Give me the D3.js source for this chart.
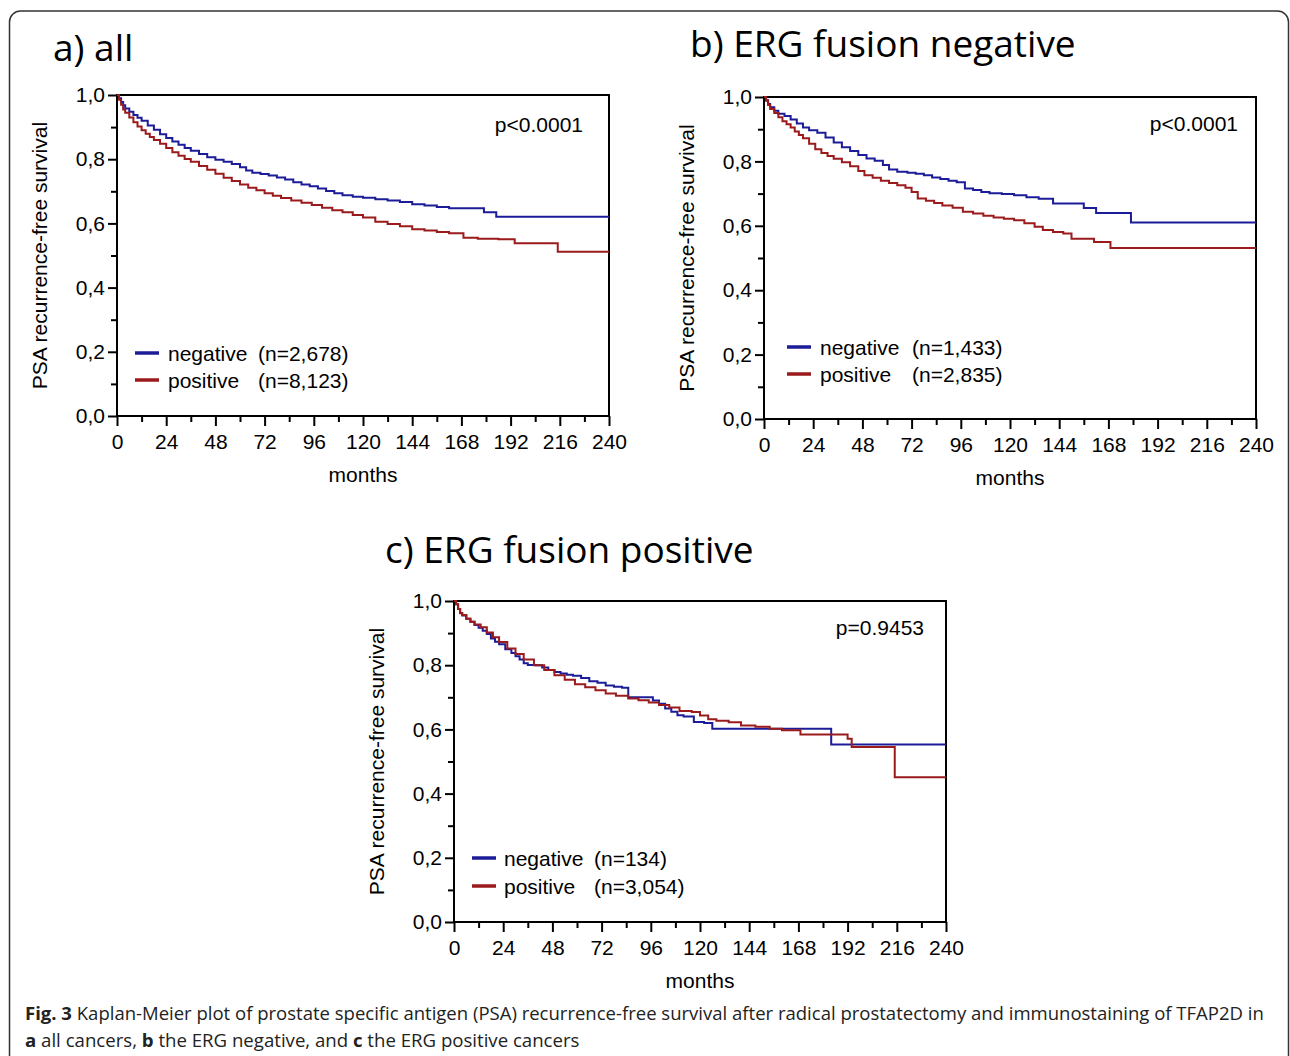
<!DOCTYPE html>
<html>
<head>
<meta charset="utf-8">
<script src="https://cdn.jsdelivr.net/npm/d3@7"></script>
<style>
	body { margin: 0; background: #fff; }
</style>
</head>
<body>
<script>
// Axis ticks
const monthTicks = [0, 24, 48, 72, 96, 120, 144, 168, 192, 216, 240];
const monthMinorTicks = [12, 36, 60, 84, 108, 132, 156, 180, 204, 228];
const survTicks = [0, 0.2, 0.4, 0.6, 0.8, 1.0];
const survMinorTicks = [0.1, 0.3, 0.5, 0.7, 0.9];
const survTickLabels = ["0,0", "0,2", "0,4", "0,6", "0,8", "1,0"];

// Panel texts
const panelTitles = ["a) all", "b) ERG fusion negative", "c) ERG fusion positive"];
const pValues = ["p<0.0001", "p<0.0001", "p=0.9453"];
const groupNames = ["negative", "positive"];
const groupCountsAll = ["(n=2,678)", "(n=8,123)"];
const groupCountsErgNeg = ["(n=1,433)", "(n=2,835)"];
const groupCountsErgPos = ["(n=134)", "(n=3,054)"];

// a) all - TFAP2D negative
const allNegMonths = [0, 1, 2, 3, 4, 6, 8, 10, 12, 15, 18, 21, 24, 27, 30, 33, 36, 40, 44, 48, 52, 56, 60, 63, 66, 70, 74, 78, 82, 86, 90, 94, 98, 102, 106, 110, 115, 120, 126, 132, 138, 144, 150, 156, 162, 179, 185, 240];
const allNegSurv = [1.0, 0.99, 0.978, 0.968, 0.958, 0.948, 0.938, 0.929, 0.92, 0.905, 0.892, 0.878, 0.866, 0.855, 0.845, 0.835, 0.826, 0.816, 0.806, 0.798, 0.792, 0.785, 0.775, 0.765, 0.758, 0.754, 0.749, 0.743, 0.737, 0.728, 0.721, 0.716, 0.709, 0.701, 0.694, 0.688, 0.683, 0.68, 0.675, 0.671, 0.667, 0.66, 0.656, 0.651, 0.647, 0.635, 0.621, 0.621];
// a) all - TFAP2D positive
const allPosMonths = [0, 1, 2, 3, 4, 6, 8, 10, 12, 14, 16, 18, 21, 24, 27, 30, 33, 36, 40, 44, 48, 52, 56, 60, 64, 68, 72, 76, 80, 85, 90, 95, 100, 105, 110, 115, 120, 126, 132, 138, 144, 150, 156, 162, 169, 176, 186, 194, 215, 240];
const allPosSurv = [1.0, 0.985, 0.97, 0.955, 0.945, 0.93, 0.915, 0.902, 0.89, 0.879, 0.869, 0.86, 0.848, 0.835, 0.822, 0.811, 0.801, 0.792, 0.779, 0.767, 0.755, 0.742, 0.732, 0.721, 0.711, 0.703, 0.694, 0.686, 0.679, 0.671, 0.664, 0.657, 0.649, 0.641, 0.635, 0.626, 0.618, 0.605, 0.598, 0.591, 0.582, 0.578, 0.573, 0.569, 0.555, 0.552, 0.551, 0.538, 0.512, 0.512];

// b) ERG negative - TFAP2D negative
const ergNegNegMonths = [0, 1, 2, 3, 5, 7, 10, 13, 16, 19, 22, 26, 30, 34, 38, 42, 46, 50, 54, 58, 61, 65, 70, 74, 78, 82, 86, 90, 94, 98, 102, 106, 110, 116, 122, 128, 134, 141, 156, 162, 179, 240];
const ergNegNegSurv = [1.0, 0.99, 0.978, 0.968, 0.957, 0.948, 0.941, 0.93, 0.918, 0.905, 0.897, 0.889, 0.874, 0.859, 0.844, 0.832, 0.82, 0.809, 0.802, 0.789, 0.775, 0.768, 0.765, 0.762, 0.757, 0.75, 0.745, 0.74, 0.735, 0.716, 0.711, 0.705, 0.701, 0.699, 0.695, 0.689, 0.684, 0.669, 0.655, 0.64, 0.61, 0.61];
// b) ERG negative - TFAP2D positive
const ergNegPosMonths = [0, 1, 2, 3, 5, 7, 9, 11, 13, 15, 17, 19, 22, 25, 28, 31, 34, 38, 42, 46, 49, 53, 57, 61, 65, 69, 72, 75, 79, 83, 87, 92, 97, 102, 107, 112, 117, 122, 127, 132, 136, 141, 146, 150, 161, 169, 240];
const ergNegPosSurv = [1.0, 0.988, 0.975, 0.963, 0.95, 0.937, 0.925, 0.915, 0.905, 0.893, 0.882, 0.872, 0.855, 0.838, 0.826, 0.817, 0.808, 0.797, 0.785, 0.77, 0.757, 0.749, 0.74, 0.733, 0.726, 0.718, 0.705, 0.685, 0.678, 0.671, 0.663, 0.656, 0.644, 0.638, 0.631, 0.626, 0.622, 0.617, 0.608, 0.597, 0.587, 0.581, 0.576, 0.56, 0.55, 0.531, 0.531];

// c) ERG positive - TFAP2D negative
const ergPosNegMonths = [0, 1, 2, 3, 4, 6, 8, 10, 12, 14, 16, 18, 20, 22, 25, 28, 30, 32, 34, 36, 40, 43, 46, 49, 52, 55, 58, 62, 66, 70, 74, 78, 82, 85, 90, 95, 97, 100, 103, 106, 109, 112, 117, 122, 126, 184, 240];
const ergPosNegSurv = [1.0, 0.99, 0.975, 0.963, 0.955, 0.945, 0.935, 0.925, 0.917, 0.907, 0.897, 0.883, 0.873, 0.865, 0.85, 0.838, 0.828, 0.818, 0.806, 0.801, 0.8, 0.793, 0.785, 0.779, 0.774, 0.77, 0.767, 0.76, 0.75, 0.745, 0.737, 0.733, 0.73, 0.7, 0.7, 0.7, 0.69, 0.68, 0.665, 0.655, 0.644, 0.64, 0.623, 0.62, 0.602, 0.553, 0.553];
// c) ERG positive - TFAP2D positive
const ergPosPosMonths = [0, 1, 2, 3, 4, 6, 8, 10, 13, 16, 19, 22, 26, 30, 34, 39, 44, 49, 54, 59, 64, 69, 74, 79, 85, 90, 95, 100, 105, 110, 116, 120, 124, 128, 134, 140, 147, 154, 160, 169, 192, 194, 215, 240];
const ergPosPosSurv = [1.0, 0.99, 0.975, 0.962, 0.956, 0.945, 0.935, 0.927, 0.918, 0.902, 0.887, 0.872, 0.852, 0.835, 0.818, 0.8, 0.785, 0.769, 0.755, 0.741, 0.731, 0.722, 0.712, 0.705, 0.696, 0.691, 0.684, 0.676, 0.668, 0.657, 0.654, 0.643, 0.632, 0.627, 0.622, 0.612, 0.608, 0.602, 0.597, 0.584, 0.571, 0.545, 0.451, 0.451];

// Caption
const captionLine1 = ["Fig. 3", " Kaplan-Meier plot of prostate specific antigen (PSA) recurrence-free survival after radical prostatectomy and immunostaining of TFAP2D in"];
const captionLine2 = [["a", true], [" all cancers, ", false], ["b", true], [" the ERG negative, and ", false], ["c", true], [" the ERG positive cancers", false]];

const seriesColors = ["#1c1c98", "#9b1a1c"];
const arial = "'Liberation Sans', Arial, sans-serif";
const openSans = "'Open Sans', sans-serif";

// Layout of each panel (pixel positions only)
const panels = [
	{ title: panelTitles[0], titleX: 53, titleY: 61, left: 117, top: 95, bottom: 416,
	  neg: [allNegMonths, allNegSurv], pos: [allPosMonths, allPosSurv], counts: groupCountsAll,
	  p: pValues[0], pX: 583, pY: 132, legLine: 18, legText: 51, legCount: 141, legY: [353, 380] },
	{ title: panelTitles[1], titleX: 690, titleY: 57, left: 764, top: 97, bottom: 419,
	  neg: [ergNegNegMonths, ergNegNegSurv], pos: [ergNegPosMonths, ergNegPosSurv], counts: groupCountsErgNeg,
	  p: pValues[1], pX: 1238, pY: 131, legLine: 23, legText: 56, legCount: 148, legY: [347, 374] },
	{ title: panelTitles[2], titleX: 385, titleY: 563, left: 454, top: 601, bottom: 922,
	  neg: [ergPosNegMonths, ergPosNegSurv], pos: [ergPosPosMonths, ergPosPosSurv], counts: groupCountsErgPos,
	  p: pValues[2], pX: 924, pY: 635, legLine: 18, legText: 50, legCount: 140, legY: [858, 886] }
];

let svg = d3.select("body")
			.append("svg")
			.attr("width", 1290)
			.attr("height", 1056);

// Outer rounded frame
svg.append("rect")
   .attr("x", 9.5)
   .attr("y", 11)
   .attr("width", 1279)
   .attr("height", 1200)
   .attr("rx", 11)
   .attr("fill", "none")
   .attr("stroke", "#333")
   .attr("stroke-width", 1.5);

function renderPanel(p) {
	let plotWidth = 492;
	let x = d3.scaleLinear().domain([0, 240]).range([p.left, p.left + plotWidth]);
	let y = d3.scaleLinear().domain([0, 1]).range([p.bottom, p.top]);
	let g = svg.append("g");

	// Title
	g.append("text")
	 .attr("x", p.titleX)
	 .attr("y", p.titleY)
	 .attr("font-family", openSans)
	 .attr("font-size", 37)
	 .attr("fill", "#000")
	 .text(p.title);

	// Minor ticks
	g.append("g")
	 .attr("transform", `translate(0,${p.bottom})`)
	 .call(d3.axisBottom(x).tickValues(monthMinorTicks).tickSize(6).tickFormat(""))
	 .call(a => a.select(".domain").remove())
	 .selectAll("line").attr("stroke-width", 2);
	g.append("g")
	 .attr("transform", `translate(${p.left},0)`)
	 .call(d3.axisLeft(y).tickValues(survMinorTicks).tickSize(6).tickFormat(""))
	 .call(a => a.select(".domain").remove())
	 .selectAll("line").attr("stroke-width", 2);

	// Major ticks with labels
	let xAxis = g.append("g")
				 .attr("transform", `translate(0,${p.bottom})`)
				 .call(d3.axisBottom(x).tickValues(monthTicks).tickSize(10).tickPadding(8).tickFormat(d => d))
				 .call(a => a.select(".domain").remove());
	xAxis.selectAll("line").attr("stroke-width", 2);
	xAxis.selectAll("text")
		 .attr("font-family", arial)
		 .attr("font-size", 21)
		 .attr("fill", "#000");

	let yAxis = g.append("g")
				 .attr("transform", `translate(${p.left},0)`)
				 .call(d3.axisLeft(y).tickValues(survTicks).tickSize(9).tickPadding(3)
						.tickFormat((d, i) => survTickLabels[i]))
				 .call(a => a.select(".domain").remove());
	yAxis.selectAll("line").attr("stroke-width", 2);
	yAxis.selectAll("text")
		 .attr("font-family", arial)
		 .attr("font-size", 21)
		 .attr("fill", "#000");

	// Plot frame
	g.append("rect")
	 .attr("x", p.left)
	 .attr("y", p.top)
	 .attr("width", plotWidth)
	 .attr("height", p.bottom - p.top)
	 .attr("fill", "none")
	 .attr("stroke", "#000")
	 .attr("stroke-width", 2);

	// Axis titles
	g.append("text")
	 .attr("x", (x(0) + x(240)) / 2)
	 .attr("y", p.bottom + 66)
	 .attr("text-anchor", "middle")
	 .attr("font-family", arial)
	 .attr("font-size", 21)
	 .text("months");
	g.append("text")
	 .attr("transform", `translate(${p.left - 70},${(p.top + p.bottom) / 2}) rotate(-90)`)
	 .attr("text-anchor", "middle")
	 .attr("font-family", arial)
	 .attr("font-size", 21)
	 .text("PSA recurrence-free survival");

	// Survival curves
	let line = d3.line()
				 .x(d => x(d[0]))
				 .y(d => y(d[1]))
				 .curve(d3.curveStepAfter);
	[p.neg, p.pos].forEach(function(s, i) {
		g.append("path")
		 .datum(d3.zip(s[0], s[1]))
		 .attr("d", line)
		 .attr("fill", "none")
		 .attr("stroke", seriesColors[i])
		 .attr("stroke-width", 2);
	});

	// p-value
	g.append("text")
	 .attr("x", p.pX)
	 .attr("y", p.pY)
	 .attr("text-anchor", "end")
	 .attr("font-family", arial)
	 .attr("font-size", 21)
	 .text(p.p);

	// Legend
	for (let i = 0; i < groupNames.length; ++i) {
		g.append("line")
		 .attr("x1", p.left + p.legLine)
		 .attr("x2", p.left + p.legLine + 24)
		 .attr("y1", p.legY[i])
		 .attr("y2", p.legY[i])
		 .attr("stroke", seriesColors[i])
		 .attr("stroke-width", 3.5);
		g.append("text")
		 .attr("x", p.left + p.legText)
		 .attr("y", p.legY[i] + 8)
		 .attr("font-family", arial)
		 .attr("font-size", 21)
		 .text(groupNames[i]);
		g.append("text")
		 .attr("x", p.left + p.legCount)
		 .attr("y", p.legY[i] + 8)
		 .attr("font-family", arial)
		 .attr("font-size", 21)
		 .text(p.counts[i]);
	}
}

panels.forEach(renderPanel);

// Caption, squeezed to the width it has in the figure
function captionLine(parts, yPos, width) {
	let t = svg.append("text")
			   .attr("font-family", openSans)
			   .attr("font-size", 18)
			   .attr("fill", "#222");
	parts.forEach(function(d) {
		t.append("tspan")
		 .attr("font-weight", d[1] ? "bold" : "normal")
		 .text(d[0]);
	});
	let natural = t.node().getComputedTextLength();
	t.attr("transform", `translate(25,${yPos}) scale(${width / natural},1)`);
}
captionLine([[captionLine1[0], true], [captionLine1[1], false]], 1020, 1240);
captionLine(captionLine2, 1047, 555);
</script>
</body>
</html>
